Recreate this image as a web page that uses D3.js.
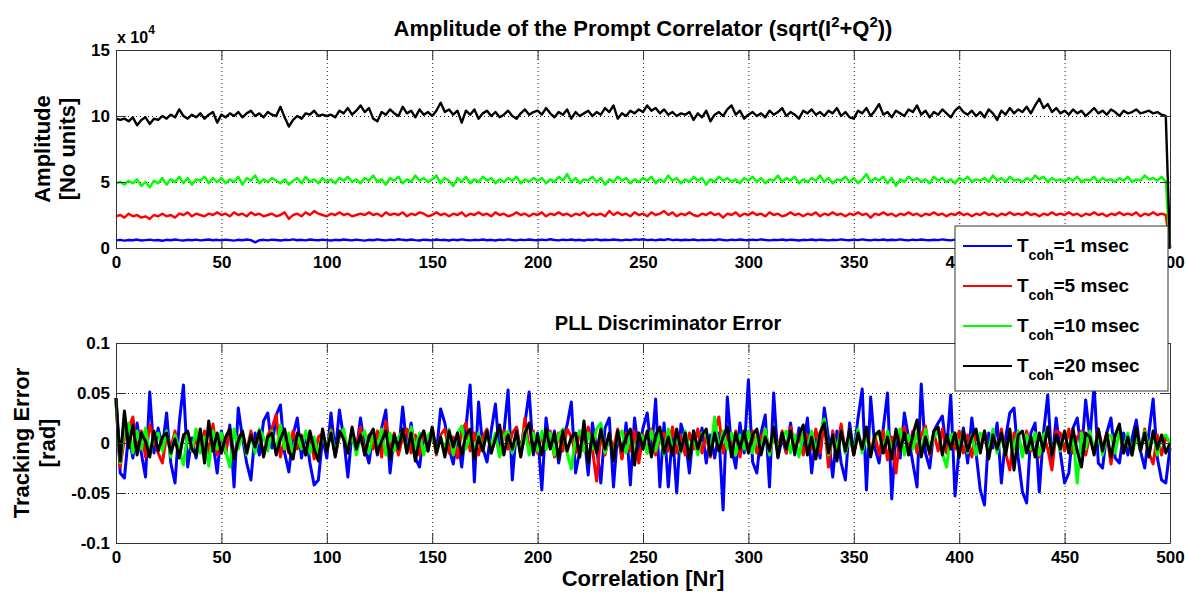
<html>

<head>
    <script src="https://d3js.org/d3.v7.min.js"></script>
    <style>
        body {
            margin: 0;
            background: #fff;
        }

        text {
            font-family: "Liberation Sans", Arial, sans-serif;
            font-weight: bold;
            fill: #000;
        }

        .axis .domain {
            stroke: #333;
        }

        .axis line {
            stroke: #333;
        }

        .axis text {
            font-size: 17px;
        }

        .gridlines .domain {
            display: none;
        }

        .gridlines line {
            stroke: #222;
            stroke-dasharray: 1, 3;
        }
    </style>
</head>

<body>
    <svg id="chart" width="1186" height="592"></svg>

    <script>
        // sample index of every stored point (every 2nd correlation)
        const samples = d3.range(0, 501, 2);

        // amplitude of the prompt correlator, in thousands
        const ampT1 = [
            5.8, 6.2, 5.6, 6.1, 5.9, 6.4, 5.7, 6.0, 6.3, 5.8, 6.1, 5.5, 6.2, 5.9, 6.4, 6.0, 5.7, 6.2, 5.9, 6.3, 5.8, 6.1, 6.4, 5.9, 6.2,
            5.8, 6.3, 6.0, 5.6, 6.2, 5.9, 6.4, 6.0, 4.3, 5.9, 6.2, 5.8, 6.3, 6.1, 5.7, 6.2, 6.0, 6.5, 5.9, 6.2, 5.8, 6.4, 6.1, 5.9, 6.3,
            6.0, 5.7, 6.2, 5.9, 6.4, 6.1, 5.8, 6.3, 6.0, 5.6, 6.2, 5.9, 6.5, 6.1, 5.8, 6.3, 6.0, 6.6, 6.2, 5.9, 6.4, 6.0, 5.7, 6.3, 6.1,
            5.8, 6.4, 6.0, 6.2, 5.7, 6.3, 5.9, 6.5, 6.1, 5.8, 6.2, 6.0, 6.4, 5.9, 6.2, 5.7, 6.3, 6.0, 6.5, 6.1, 5.8, 6.3, 6.0, 6.4, 6.1,
            5.9, 6.3, 6.0, 6.6, 6.1, 5.8, 6.3, 6.0, 6.4, 5.9, 6.2, 5.7, 6.3, 6.1, 6.5, 5.9, 6.2, 6.0, 6.4, 6.1, 5.8, 6.3, 6.0, 6.5, 6.2,
            6.6, 6.0, 6.3, 5.8, 6.4, 6.1, 6.7, 6.0, 6.3, 5.9, 6.2, 6.0, 6.4, 5.8, 6.2, 6.0, 6.3, 5.9, 6.5, 6.1, 5.8, 6.3, 6.0, 6.4, 6.1,
            5.9, 6.3, 6.0, 6.5, 6.1, 5.8, 6.2, 6.0, 6.4, 5.9, 6.3, 6.1, 5.7, 6.2, 6.0, 6.4, 5.9, 6.3, 6.1, 5.8, 6.2, 6.0, 6.5, 6.1, 5.9,
            6.3, 6.0, 6.5, 6.1, 5.8, 6.3, 6.0, 6.4, 5.9, 6.2, 6.0, 6.5, 6.1, 5.8, 6.3, 6.0, 6.4, 6.1, 5.9, 6.2, 6.0, 6.5, 6.1, 5.8, 6.3,
            6.0, 6.4, 5.9, 6.2, 6.0, 6.5, 6.1, 5.8, 6.3, 6.0, 6.4, 5.9, 6.2, 6.1, 6.5, 6.0, 5.8, 6.3, 6.1, 6.4, 5.9, 6.2, 6.0, 6.5, 6.1,
            5.9, 6.3, 6.0, 6.4, 6.1, 5.8, 6.2, 6.0, 6.5, 6.1, 5.9, 6.3, 6.0, 6.4, 5.8, 6.2, 6.0, 6.5, 6.1, 5.9, 6.3, 6.0, 6.4, 6.1, 5.9,
            0];
        const ampT5 = [
            24, 25, 23, 26, 24, 25, 23, 24, 22, 25, 24, 26, 24, 25, 23, 26, 25, 27, 24, 26, 25, 24, 26, 25, 27,
            25, 26, 24, 27, 25, 26, 24, 27, 25, 26, 24, 25, 26, 24, 25, 27, 22, 25, 26, 24, 27, 25, 28, 26, 25,
            24, 26, 25, 27, 25, 26, 24, 25, 26, 25, 27, 25, 26, 24, 27, 25, 26, 25, 27, 24, 26, 25, 27, 26, 24,
            25, 27, 25, 26, 24, 26, 25, 27, 24, 26, 25, 27, 25, 26, 24, 27, 25, 26, 24, 25, 27, 25, 26, 24, 26,
            25, 27, 24, 26, 25, 27, 25, 26, 24, 26, 25, 27, 24, 26, 25, 26, 24, 28, 25, 27, 25, 26, 24, 27, 25,
            26, 24, 27, 25, 26, 28, 25, 27, 24, 26, 25, 27, 25, 24, 26, 25, 27, 25, 26, 23, 26, 25, 27, 24, 26,
            25, 27, 25, 26, 24, 27, 25, 26, 24, 25, 27, 25, 26, 24, 26, 25, 27, 24, 26, 25, 27, 25, 26, 24, 26,
            25, 27, 25, 26, 23, 26, 25, 27, 25, 26, 24, 26, 25, 27, 25, 26, 24, 26, 25, 27, 25, 26, 24, 26, 25,
            27, 25, 26, 24, 26, 25, 27, 25, 26, 24, 26, 25, 27, 25, 26, 25, 27, 25, 26, 24, 26, 25, 27, 25, 26,
            25, 27, 25, 26, 24, 26, 25, 27, 25, 26, 24, 26, 25, 27, 25, 26, 25, 27, 24, 26, 25, 27, 25, 26, 25,
            0];
        const ampT10 = [
            49, 50, 48, 51, 49, 52, 47, 50, 46, 51, 49, 53, 48, 52, 50, 54, 49, 53, 48, 52, 51, 54, 49, 53, 50,
            53, 49, 52, 50, 54, 48, 53, 51, 55, 49, 52, 50, 53, 51, 49, 52, 48, 51, 53, 49, 54, 50, 52, 49, 53,
            50, 52, 49, 53, 51, 54, 50, 52, 49, 53, 51, 55, 50, 52, 48, 53, 51, 54, 49, 52, 50, 55, 51, 53, 50,
            52, 55, 49, 53, 51, 47, 53, 50, 54, 49, 52, 50, 54, 51, 53, 49, 52, 50, 53, 51, 54, 49, 52, 50, 53,
            51, 53, 49, 52, 50, 54, 51, 56, 50, 53, 49, 52, 51, 54, 50, 53, 48, 52, 50, 54, 51, 53, 49, 52, 50,
            53, 51, 54, 49, 52, 50, 55, 51, 53, 49, 52, 50, 54, 51, 53, 48, 52, 50, 54, 51, 53, 50, 52, 49, 53,
            51, 54, 50, 53, 49, 52, 51, 55, 50, 53, 51, 54, 49, 52, 50, 53, 51, 55, 50, 53, 49, 52, 51, 54, 50,
            53, 49, 52, 56, 50, 53, 51, 54, 49, 53, 47, 52, 50, 54, 51, 53, 50, 52, 49, 54, 51, 53, 50, 52, 49,
            53, 51, 54, 50, 52, 51, 53, 50, 55, 51, 53, 50, 54, 51, 52, 50, 53, 51, 55, 52, 54, 50, 53, 51, 52,
            50, 53, 51, 54, 50, 52, 51, 54, 50, 53, 51, 52, 50, 53, 51, 54, 50, 52, 51, 55, 52, 53, 51, 54, 50,
            0];
        const ampT20 = [
            98, 97, 98, 96, 99, 93, 97, 99, 94, 98, 97, 100, 98, 101, 99, 105, 100, 98, 101, 99, 102, 98, 101, 103, 95,
            101, 99, 102, 100, 103, 99, 102, 104, 100, 102, 99, 103, 101, 100, 107, 99, 92, 97, 100, 98, 102, 101, 104, 100, 101,
            100, 101, 99, 104, 102, 106, 101, 104, 108, 103, 106, 98, 96, 103, 101, 105, 102, 100, 107, 102, 104, 99, 105, 101, 103,
            100, 104, 110, 103, 105, 101, 104, 95, 104, 101, 105, 98, 102, 104, 100, 103, 99, 101, 104, 100, 98, 102, 105, 101, 103,
            104, 101, 106, 102, 99, 103, 101, 105, 98, 103, 100, 102, 104, 100, 103, 101, 106, 103, 108, 98, 102, 100, 104, 102, 105,
            103, 108, 104, 106, 102, 105, 101, 103, 100, 102, 101, 103, 97, 102, 99, 104, 96, 101, 103, 100, 105, 108, 101, 104, 98,
            101, 103, 100, 102, 99, 104, 101, 103, 106, 100, 103, 101, 98, 104, 102, 105, 101, 103, 100, 104, 102, 106, 100, 103, 99,
            98, 104, 102, 106, 100, 104, 109, 101, 103, 99, 104, 102, 100, 105, 103, 108, 101, 104, 99, 103, 101, 105, 102, 99, 104,
            107, 103, 101, 104, 100, 103, 99, 105, 102, 97, 104, 101, 106, 102, 105, 103, 107, 102, 108, 113, 106, 109, 103, 106, 102,
            104, 101, 105, 102, 104, 100, 103, 106, 102, 104, 101, 105, 103, 100, 104, 102, 103, 105, 102, 103, 104, 102, 103, 101, 100,
            0];

        // PLL discriminator error, in milliradians
        const errT1 = [
            45, -30, -35, 10, -15, 20, -10, -34, 51, -10, 15, -5, 30, -20, -40, 20, 58, -24, 5, -15, 10, -8, 15, 0, -30,
            12, -10, 18, -44, 35, 5, -20, -37, 10, -12, 22, 30, -5, 28, 38, -10, -29, 8, 25, -15, 10, -20, -42, -37, 5,
            -15, 30, -10, 33, 5, -34, 12, -8, 25, -5, -20, 10, -12, 15, 33, -30, 8, -10, 36, -5, 20, -15, -24, 10, -8,
            15, -10, 34, 20, -5, -21, 8, -24, 15, 58, -39, 41, -5, -19, 12, 39, -12, 10, 53, -37, 15, -8, 20, 51, -12,
            10, -47, 25, -5, 12, -20, 5, 18, 41, -30, -8, 10, -32, 20, -5, -40, 15, 25, -44, 10, -15, 20, -42, 25, -10,
            15, 30, -10, 44, -44, 20, -44, 10, -50, 19, 5, -30, 12, -8, 15, -20, 8, -15, 10, -67, 46, -5, -25, 20, -10,
            63, -19, -30, 10, 28, -44, 50, -15, 5, -10, 20, -12, 15, -5, 25, -30, 8, -15, 35, 5, -34, 12, -20, -37, 20,
            -10, 25, 54, -47, 46, -5, -20, 15, 50, -56, 10, -15, 30, 5, -20, -44, 59, -10, -25, 12, 20, 27, -8, 48, -53,
            -5, 15, -20, 25, -10, -47, -62, 10, -5, 20, -40, 5, 30, 35, -15, -49, -60, 10, 20, -49, 10, 48, -20, 25, -10,
            -40, -30, 15, 25, -10, 43, 5, 58, -20, -25, 10, 25, -15, -20, 10, -12, 5, 23, -8, -25, 10, 44, -15, -37, -40,
            -5];
        const errT5 = [
            40, -24, 5, 15, 26, -8, 12, -14, 18, 5, -10, -20, 8, -5, 12, -12, 6, 10, -8, 4, -6, 12, -10, 19, -12,
            8, -10, 14, -15, 6, 10, -8, 12, -6, 10, -12, 8, 15, 28, -14, 5, -10, 12, -6, 8, -12, 10, -16, 6, 10,
            -8, 14, -12, 6, 10, -10, 12, -5, 16, -12, 8, -6, 12, -14, 22, -8, 10, -12, 6, 14, -10, 8, -12, 12, -6,
            10, -12, 8, 14, -10, 6, -15, 12, 20, -8, 10, -12, 6, 14, -10, 8, -12, 12, -6, 10, 16, -12, 25, -8, 12,
            -10, 8, -6, 12, -14, 10, -8, 14, 6, -10, 12, -8, 16, -6, -38, 10, -12, 8, -6, 14, -16, 10, -8, 12, -20,
            8, -10, 14, -12, 6, 10, -8, 16, -10, 8, -12, 10, -6, 14, -10, 8, -14, 12, 26, -10, 8, -6, 12, -14, 10,
            -8, 12, -10, 6, 14, -12, 8, -6, 12, -10, 16, -8, 10, -12, 8, -6, 14, -10, 22, -24, 12, -8, 19, -10, 8,
            -12, 10, -6, 14, -10, 8, -12, 12, -17, 6, -30, 10, 16, -8, 12, -10, 8, 17, -12, 10, -8, 14, -10, 8, -6,
            12, -10, 8, -14, 10, -6, 12, -12, 8, -8, 14, -10, -27, 10, 6, -12, 12, -8, 10, -14, 8, -6, -27, 12, 10,
            -8, 14, -10, 6, 12, -12, 8, -10, 14, -6, 10, -21, 8, 12, -10, 6, -12, 10, -8, 14, -10, -21, 8, -12, 6,
            0];
        const errT10 = [
            42, -20, 14, 20, -10, 12, -6, 15, -12, 6, 10, -8, 12, -14, 8, -6, -22, 10, -8, 14, -10, 6, -23, 12, -6,
            10, -8, -24, 14, -6, 10, -12, 8, -10, 14, 6, -8, 12, -10, 18, -6, 10, -12, 8, -6, 12, -10, 6, -14, 10,
            -6, 12, -10, 8, 14, -8, 10, -12, 6, 12, -10, 8, -6, 14, -12, 10, -8, 6, 12, -10, 16, -6, 10, -12, 8,
            12, -10, 6, -8, 14, -12, 10, 17, -6, 8, -12, 10, -8, 12, -6, 10, -14, 8, 12, -10, 6, -8, 14, -12, 10,
            -8, 12, -6, 10, -12, 8, 14, -10, -26, 6, 12, -8, 10, -6, 14, 20, -10, 8, -12, 6, 12, -10, 8, -14, 10,
            6, -10, 12, -8, 10, -12, 14, -6, 8, -10, 12, -8, 6, -12, 10, 8, -10, 26, -8, 12, -6, 10, -12, 8, -6,
            12, -10, 8, -6, 14, -12, 10, -8, 6, 12, -10, 8, -14, 10, -6, 12, -8, 10, 24, -12, 8, -6, 12, -10, 6,
            -8, 14, -10, 8, -12, 6, 10, -8, 12, -10, 6, 14, -12, 8, -6, 10, -12, 14, -8, 6, 12, -10, -24, 8, 10,
            -6, 12, -10, 8, -12, 10, 6, -8, 14, -10, 8, -12, 10, -6, 12, -14, 8, -6, 10, -12, 8, 14, -10, 6, -8,
            12, -10, 8, -40, 10, -6, 12, -8, 10, -12, 6, 8, -10, 12, -6, 10, -12, 8, -8, 12, -6, 10, -12, 6, 8,
            0];
        const errT20 = [
            45, -18, 32, -5, 18, -12, 10, 2, -14, 12, -8, 6, 10, -10, 4, -15, 8, 12, -6, -12, 14, -20, 22, -8, 10,
            -10, 6, 14, -16, 2, 12, -10, 8, -4, 12, -14, 6, 10, -12, 4, 14, -8, -16, 10, 6, -12, 12, -6, -18, 14,
            -8, 10, -14, 12, 4, -10, 16, -6, 8, -12, 6, 14, -10, 2, 12, -16, 8, -6, 14, -10, 10, -18, 4, 12, -8,
            16, -10, 6, -14, 12, -4, 10, -12, 8, 14, -16, 6, -8, 12, -10, 4, 18, -12, 8, -6, 12, -14, 10, 20, -10,
            8, -12, 14, -6, 10, -16, 12, -8, 6, 10, -14, 22, -20, 8, -10, 14, -6, 10, -18, 12, -8, 6, 14, -22, 10,
            -6, 12, -14, 8, 16, -10, 6, -12, 14, -8, 10, -16, 12, -6, 8, 14, -12, 10, -8, 6, 16, -14, 10, -6, 12,
            -10, 8, 14, -12, 6, -8, 16, -14, 10, -6, 12, -10, 8, 18, -12, 6, -16, 10, 20, -10, 8, -18, 12, -8, 14,
            -12, 10, -6, 16, -14, 8, 12, -10, 6, -16, 14, -8, 10, -12, 8, 23, -14, 6, -10, 12, 16, -12, 8, -6, 10,
            -14, 12, -8, 6, 14, -10, 12, -16, 8, -6, 10, -12, 14, -27, 8, 12, -10, 6, -14, 10, -8, 16, -12, 8, -6,
            12, -10, 14, -8, -24, 10, 6, -12, 14, -8, 10, -14, 8, 19, -10, 6, -12, 16, -8, 10, -14, 12, -6, 8, -10,
            0];

        const seriesNames = ["1", "5", "10", "20"];
        const seriesColors = ["#0000ff", "#ff0000", "#00ff00", "#000000"];
        const ampSeries = [ampT1, ampT5, ampT10, ampT20];
        const errSeries = [errT1, errT5, errT10, errT20];

        const xTicks = [0, 50, 100, 150, 200, 250, 300, 350, 400, 450, 500];
        const ampTicks = [0, 50000, 100000, 150000];
        const errTicks = [-0.1, -0.05, 0, 0.05, 0.1];

        const svg = d3.select("#chart");
        const left = 116, right = 1170;

        const x = d3.scaleLinear().domain([0, 500]).range([left, right]);
        const yAmp = d3.scaleLinear().domain([0, 150000]).range([248, 50]);
        const yErr = d3.scaleLinear().domain([-0.1, 0.1]).range([543, 343]);

        // draws grid, lines and the axis box of one panel
        function panel(y, ticks, tickFmt, series, toValue, lineWidth) {
            const top = y.range()[1], bottom = y.range()[0];
            const g = svg.append("g");

            g.append("g").attr("class", "gridlines")
                .attr("transform", `translate(0,${bottom})`)
                .call(d3.axisBottom(x).tickValues(xTicks.slice(1, -1)).tickSize(-(bottom - top)).tickFormat(""));
            g.append("g").attr("class", "gridlines")
                .attr("transform", `translate(${left},0)`)
                .call(d3.axisLeft(y).tickValues(ticks.slice(1, -1)).tickSize(-(right - left)).tickFormat(""));

            const line = d3.line()
                .x((d, i) => x(samples[i]))
                .y(d => y(toValue(d)));

            series.forEach((s, k) => {
                g.append("path")
                    .datum(s)
                    .attr("fill", "none")
                    .attr("stroke", seriesColors[k])
                    .attr("stroke-width", lineWidth)
                    .attr("stroke-linejoin", "round")
                    .attr("d", line);
            });

            g.append("g").attr("class", "axis")
                .attr("transform", `translate(0,${bottom})`)
                .call(d3.axisBottom(x).tickValues(xTicks).tickSizeInner(-10).tickSizeOuter(0).tickPadding(8));
            g.append("g").attr("class", "axis")
                .attr("transform", `translate(0,${top})`)
                .call(d3.axisTop(x).tickValues(xTicks).tickSizeInner(-10).tickSizeOuter(0).tickFormat(""));
            g.append("g").attr("class", "axis")
                .attr("transform", `translate(${left},0)`)
                .call(d3.axisLeft(y).tickValues(ticks).tickSizeInner(-10).tickSizeOuter(0).tickPadding(6).tickFormat(tickFmt));
            g.append("g").attr("class", "axis")
                .attr("transform", `translate(${right},0)`)
                .call(d3.axisRight(y).tickValues(ticks).tickSizeInner(-10).tickSizeOuter(0).tickFormat(""));
            return g;
        }

        panel(yAmp, ampTicks, d => d / 10000, ampSeries, d => d * 1000, 2.4);
        panel(yErr, errTicks, d => String(d), errSeries, d => d / 1000, 3);

        // titles
        const title1 = svg.append("text")
            .attr("x", 643).attr("y", 36)
            .attr("text-anchor", "middle")
            .attr("font-size", 22);
        title1.append("tspan").text("Amplitude of the Prompt Correlator (sqrt(I");
        title1.append("tspan").attr("dy", -9).attr("font-size", 15).text("2");
        title1.append("tspan").attr("dy", 9).text("+Q");
        title1.append("tspan").attr("dy", -9).attr("font-size", 15).text("2");
        title1.append("tspan").attr("dy", 9).text("))");

        svg.append("text")
            .attr("x", 668).attr("y", 330)
            .attr("text-anchor", "middle")
            .attr("font-size", 20)
            .text("PLL Discriminator Error");

        // exponent label of the top y axis
        const expo = svg.append("text")
            .attr("x", 117).attr("y", 43)
            .attr("font-size", 16);
        expo.append("tspan").text("x 10");
        expo.append("tspan").attr("dy", -9).attr("font-size", 12).text("4");

        // axis labels
        function yLabel(xPos, yPos, txt) {
            svg.append("text")
                .attr("transform", `translate(${xPos},${yPos}) rotate(-90)`)
                .attr("text-anchor", "middle")
                .attr("font-size", 22)
                .text(txt);
        }
        yLabel(50, 149, "Amplitude");
        yLabel(75, 149, "[No units]");
        yLabel(29, 443, "Tracking Error");
        yLabel(55, 443, "[rad]");

        svg.append("text")
            .attr("x", 643).attr("y", 586)
            .attr("text-anchor", "middle")
            .attr("font-size", 22)
            .text("Correlation [Nr]");

        // legend
        const legend = svg.append("g");
        legend.append("rect")
            .attr("x", 955).attr("y", 226)
            .attr("width", 213).attr("height", 165)
            .attr("fill", "#fff")
            .attr("stroke", "#333");

        seriesNames.forEach((name, k) => {
            const cy = 246 + k * 40;
            legend.append("line")
                .attr("x1", 963).attr("x2", 1012)
                .attr("y1", cy).attr("y2", cy)
                .attr("stroke", seriesColors[k])
                .attr("stroke-width", 2);
            const t = legend.append("text")
                .attr("x", 1017).attr("y", cy + 6)
                .attr("font-size", 19);
            t.append("tspan").text("T");
            t.append("tspan").attr("dy", 8).attr("font-size", 14).text("coh");
            t.append("tspan").attr("dy", -8).text("=" + name + " msec");
        });
    </script>
</body>

</html>
